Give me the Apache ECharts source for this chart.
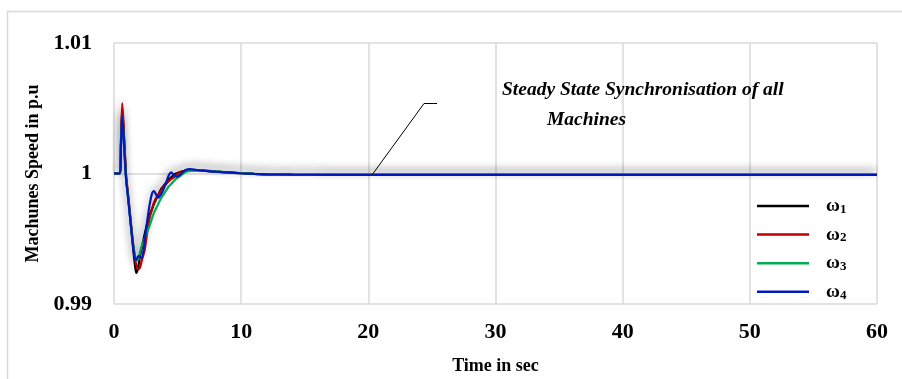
<!DOCTYPE html>
<html>
<head>
<meta charset="utf-8">
<script src="https://cdn.jsdelivr.net/npm/echarts@6/dist/echarts.min.js"></script>
<style>
  html, body { margin: 0; padding: 0; background: #ffffff; }
  #chart { width: 902px; height: 379px; }
</style>
</head>
<body>
<div id="chart"></div>
<script>
// Simulation time (s)
const timeSec = [0, 0.45, 0.55, 0.65, 0.8, 0.95, 1.1, 1.3, 1.5, 1.65, 1.75, 1.9, 2.05, 2.2, 2.4, 2.6, 2.8, 3.0, 3.15, 3.3,
  3.5, 3.7, 3.9, 4.1, 4.3, 4.5, 4.7, 4.9, 5.2, 5.6, 6.0, 6.5, 7.2, 8.0, 9.0, 10, 11, 12, 14, 17, 20, 30, 40, 50, 60];

// Machine speeds (p.u)
const omega1 = [1.0000, 1.0000, 1.0024, 1.0050, 1.0024, 0.9997, 0.9983, 0.9963, 0.9943, 0.9930, 0.99238, 0.9928, 0.9937, 0.9944, 0.9953, 0.9961, 0.9968, 0.9973, 0.9977, 0.9980,
  0.9984, 0.9988, 0.99905, 0.9993, 0.99955, 0.9997, 0.9999, 1.0000, 1.00012, 1.0002, 1.00025, 1.00025, 1.0002, 1.00014, 1.00008, 1.00002, 0.99997, 0.99994, 0.99991, 0.9999, 0.9999, 0.9999, 0.9999, 0.9999, 0.9999];
const omega2 = [1.0000, 1.0000, 1.0026, 1.0054, 1.0027, 0.9999, 0.9985, 0.9965, 0.9946, 0.9935, 0.9930, 0.99266, 0.9928, 0.9934, 0.9941, 0.9954, 0.9966, 0.9973, 0.9978, 0.9981,
  0.9984, 0.9987, 0.9990, 0.9992, 0.9994, 0.99958, 0.9997, 0.9999, 1.0001, 1.0002, 1.00026, 1.00026, 1.00022, 1.00015, 1.00008, 1.00002, 0.99997, 0.99994, 0.99991, 0.9999, 0.9999, 0.9999, 0.9999, 0.9999, 0.9999];
const omega3 = [1.0000, 1.0000, 1.0022, 1.0044, 1.0021, 0.9996, 0.9983, 0.9964, 0.9946, 0.9937, 0.99333, 0.9934, 0.9940, 0.9945, 0.9950, 0.9955, 0.9960, 0.9966, 0.9970, 0.9973,
  0.9977, 0.9981, 0.9984, 0.9987, 0.9990, 0.9992, 0.9994, 0.9996, 0.9998, 1.0001, 1.0002, 1.00024, 1.00022, 1.00016, 1.00009, 1.00003, 0.99998, 0.99994, 0.99991, 0.9999, 0.9999, 0.9999, 0.9999, 0.9999, 0.9999];
const omega4 = [1.0000, 1.0000, 1.0022, 1.0044, 1.0021, 0.9996, 0.9982, 0.9963, 0.9945, 0.99345, 0.99338, 0.99368, 0.9936, 0.99355, 0.9948, 0.9963, 0.9976, 0.9985, 0.99866, 0.9984,
  0.99815, 0.9984, 0.9988, 0.9993, 0.99985, 1.00009, 0.9999, 0.99975, 0.9999, 1.00025, 1.00034, 1.00027, 1.0002, 1.00014, 1.00008, 1.00002, 0.99997, 0.99994, 0.99991, 0.9999, 0.9999, 0.9999, 0.9999, 0.9999, 0.9999];

const seriesNames = ['ω1', 'ω2', 'ω3', 'ω4'];
const seriesColors = ['#000000', '#c00000', '#00b050', '#0018c0'];
const seriesValues = [omega1, omega2, omega3, omega4];

const xTicks = { min: 0, max: 60, interval: 10 };
const yTicks = { min: 0.99, max: 1.01, interval: 0.01 };

const noteLines = ['Steady State Synchronisation of all', 'Machines'];

const chart = echarts.init(document.getElementById('chart'), null, { renderer: 'canvas' });

const gridColor = '#d9d9d9';
const serif = '"Liberation Serif", "Times New Roman", serif';

const series = seriesValues.map((vals, k) => ({
  name: seriesNames[k],
  type: 'line',
  data: timeSec.map((t, i) => [t, vals[i]]),
  smooth: 0.25,
  symbol: 'none',
  lineStyle: {
    color: seriesColors[k],
    width: 2.2,
    shadowColor: 'rgba(0,0,0,0.18)',
    shadowBlur: 8,
    shadowOffsetY: -4,
    shadowOffsetX: -1
  },
  itemStyle: { color: seriesColors[k] },
  z: 2 + k
}));

chart.setOption({
  animation: false,
  backgroundColor: '#ffffff',
  grid: { left: 114, right: 25, top: 43, bottom: 75, containLabel: false, outerBoundsMode: 'none' },
  xAxis: {
    type: 'value',
    min: xTicks.min, max: xTicks.max, interval: xTicks.interval,
    name: 'Time in sec',
    nameLocation: 'middle',
    nameGap: 53,
    nameTextStyle: { fontFamily: serif, fontWeight: 'bold', fontSize: 18, color: '#000' },
    axisLine: { show: false },
    axisTick: { show: false },
    axisLabel: { fontFamily: serif, fontWeight: 'bold', fontSize: 22, color: '#000', margin: 17 },
    splitLine: { show: true, lineStyle: { color: gridColor, width: 1.5 } }
  },
  yAxis: {
    type: 'value',
    min: yTicks.min, max: yTicks.max, interval: yTicks.interval,
    name: 'Machunes Speed in p.u',
    nameLocation: 'middle',
    nameRotate: 90,
    nameGap: 72,
    nameTextStyle: { fontFamily: serif, fontWeight: 'bold', fontSize: 18, color: '#000' },
    axisLine: { show: false },
    axisTick: { show: false },
    axisLabel: { fontFamily: serif, fontWeight: 'bold', fontSize: 22, color: '#000', margin: 22 },
    splitLine: { show: true, lineStyle: { color: gridColor, width: 1.5 } }
  },
  legend: {
    orient: 'vertical',
    left: 752,
    top: 191,
    icon: 'rect',
    itemWidth: 52,
    itemHeight: 2.5,
    itemGap: 8.6,
    data: seriesNames,
    formatter: name => '{w|ω}{s|' + name.slice(1) + '}',
    textStyle: {
      padding: [0, 0, 0, 12],
      lineHeight: 20,
      rich: {
        w: { fontFamily: serif, fontWeight: 'bold', fontSize: 19, color: '#000', lineHeight: 20 },
        s: { fontFamily: serif, fontWeight: 'bold', fontSize: 13, color: '#000', lineHeight: 20, verticalAlign: 'bottom', padding: [6, 0, 0, 0] }
      }
    }
  },
  series: series,
  graphic: [
    {
      type: 'rect', silent: true, z: -10,
      shape: { x: 7.5, y: 11.5, width: 1000, height: 1000 },
      style: { fill: 'none', stroke: gridColor, lineWidth: 1.5 }
    },
    {
      type: 'polyline', silent: true, z: 20,
      shape: { points: [[372, 175], [424, 103.5], [437, 103.5]] },
      style: { stroke: '#000', lineWidth: 1, fill: 'none' }
    },
    {
      type: 'text', silent: true, z: 20,
      left: 502, top: 80,
      style: { text: noteLines[0], fontFamily: serif, fontStyle: 'italic', fontWeight: 'bold', fontSize: 19.5, fill: '#000' }
    },
    {
      type: 'text', silent: true, z: 20,
      left: 547, top: 110,
      style: { text: noteLines[1], fontFamily: serif, fontStyle: 'italic', fontWeight: 'bold', fontSize: 19.5, fill: '#000' }
    }
  ]
});
</script>
</body>
</html>
